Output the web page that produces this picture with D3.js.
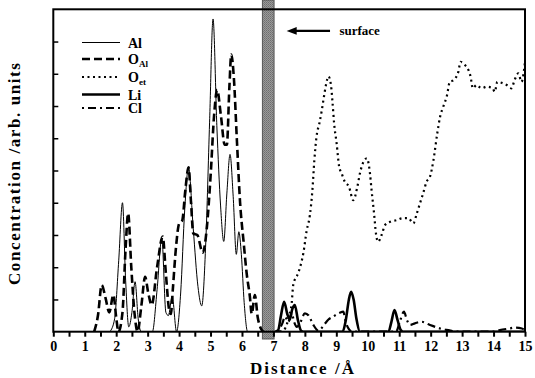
<!DOCTYPE html>
<html>
<head>
<meta charset="utf-8">
<script src="https://cdn.jsdelivr.net/npm/d3@7/dist/d3.min.js"></script>
<style>
  html, body { margin: 0; padding: 0; background: #fff; }
  svg { display: block; }
  text { font-family: "Liberation Serif", "Times New Roman", serif; font-weight: bold; fill: #000; }
</style>
</head>
<body>
<svg id="chart" width="535" height="378"></svg>
<script>
// Concentration profiles versus distance from the interface (points: [distance Å, concentration])
const seriesNames = ["Al", "O_Al", "O_et", "Li", "Cl"];

const alProfile = [
  [1.8, 0], [1.95, 0.4], [2.08, 2.2], [2.2, 4.0], [2.3, 1.6], [2.4, 0.15], [2.5, 0.6], [2.6, 1.55],
  [2.7, 0.4], [2.8, 0], [3.15, 0], [3.3, 1.3], [3.45, 2.9], [3.58, 0.6], [3.66, 0.5], [3.78, 1.1],
  [3.92, 0], [4.05, 1.2], [4.18, 3.8], [4.3, 5.1], [4.45, 3.2], [4.6, 1.4], [4.72, 0.8], [4.85, 2.8],
  [4.97, 6.5], [5.08, 9.7], [5.2, 6.4], [5.32, 3.9], [5.42, 2.8], [5.52, 4.3], [5.62, 5.5], [5.72, 4.2],
  [5.82, 2.4], [5.9, 3.1], [5.98, 2.4], [6.07, 0.9], [6.18, 0], [6.3, 0]
];

const oAlProfile = [
  [1.3, 0], [1.42, 0.5], [1.54, 1.45], [1.66, 1.05], [1.78, 0.6], [1.91, 1.14], [2.0, 0.45], [2.07, 0],
  [2.2, 0.6], [2.3, 2.6], [2.38, 3.67], [2.48, 2.0], [2.58, 0.6], [2.68, 0], [2.8, 0.8], [2.92, 1.7],
  [3.02, 1.2], [3.13, 0.83], [3.3, 2.0], [3.48, 2.95], [3.58, 1.8], [3.68, 0.7], [3.74, 0.55],
  [3.8, 1.3], [3.9, 2.6], [4.0, 3.35], [4.1, 3.45], [4.2, 4.4], [4.3, 5.1], [4.38, 4.0], [4.45, 3.05],
  [4.58, 3.0], [4.75, 2.45], [4.88, 3.2], [5.0, 4.8], [5.12, 6.8], [5.21, 7.5], [5.33, 6.7],
  [5.45, 5.8], [5.52, 5.8], [5.6, 7.6], [5.66, 8.6], [5.74, 7.9], [5.84, 5.9], [5.94, 4.0],
  [6.05, 2.8], [6.15, 1.8], [6.25, 1.1], [6.31, 0.55], [6.41, 1.14], [6.5, 0.45], [6.6, 0.1], [6.68, 0]
];

const oEtProfile = [
  [7.2, 0], [7.37, 0.1], [7.5, 0.5], [7.58, 0.88], [7.63, 1.45], [7.8, 1.85], [7.95, 2.43], [8.06, 3.15],
  [8.16, 3.62], [8.24, 4.4], [8.3, 5.3], [8.37, 6.05], [8.46, 6.46], [8.53, 6.82], [8.59, 7.19],
  [8.67, 7.65], [8.75, 7.92], [8.83, 7.65], [8.88, 7.1], [8.93, 6.46], [9.01, 5.84], [9.09, 5.12],
  [9.17, 4.91], [9.27, 4.65], [9.4, 4.5], [9.54, 4.08], [9.67, 4.5], [9.75, 4.91], [9.9, 5.33],
  [9.97, 5.38], [10.07, 4.91], [10.12, 4.4], [10.2, 3.67], [10.26, 3.05], [10.33, 2.79], [10.44, 3.0],
  [10.55, 3.31], [10.71, 3.41], [10.92, 3.46], [11.1, 3.52], [11.29, 3.52], [11.45, 3.36], [11.56, 3.67],
  [11.66, 3.98], [11.76, 4.29], [11.87, 4.65], [11.98, 4.81], [12.09, 5.33], [12.21, 6.15], [12.3, 6.67],
  [12.4, 6.98], [12.51, 7.29], [12.61, 7.75], [12.72, 7.8], [12.88, 8.06], [12.95, 8.37], [13.09, 8.27],
  [13.2, 8.12], [13.27, 7.91], [13.34, 7.55], [13.46, 7.65], [13.62, 7.55], [13.78, 7.6], [13.97, 7.55],
  [14.04, 7.44], [14.12, 7.75], [14.31, 7.7], [14.42, 7.65], [14.57, 7.55], [14.67, 7.81], [14.79, 8.01],
  [14.89, 7.75], [14.97, 8.12], [15.0, 8.37]
];

const liProfile = [
  [7.05, 0], [7.15, 0.05], [7.24, 0.5], [7.34, 0.93], [7.44, 0.55], [7.52, 0.38], [7.6, 0.7], [7.68, 0.83],
  [7.78, 0.35], [7.88, 0.03], [7.95, 0], [9.2, 0], [9.3, 0.35], [9.4, 1.0], [9.47, 1.24], [9.55, 1.0],
  [9.64, 0.4], [9.75, 0], [10.66, 0], [10.75, 0.3], [10.85, 0.67], [10.95, 0.35], [11.05, 0.05],
  [11.12, 0], [15.0, 0]
];

const clProfile = [
  [7.15, 0], [7.28, 0.25], [7.37, 0.47], [7.47, 0.3], [7.58, 0.57], [7.66, 0.3], [7.74, 0.15],
  [7.86, 0.3], [8.0, 0.57], [8.12, 0.5], [8.27, 0.21], [8.43, 0.03], [8.6, 0.2], [8.75, 0.38],
  [8.9, 0.47], [9.1, 0.58], [9.22, 0.62], [9.3, 0.3], [9.4, 0.08], [9.5, 0], [10.9, 0], [11.02, 0.31],
  [11.15, 0.62], [11.25, 0.35], [11.34, 0.21], [11.5, 0.26], [11.71, 0.31], [11.98, 0.21], [12.3, 0.1],
  [12.6, 0.04], [12.8, 0], [14.0, 0], [14.2, 0.05], [14.5, 0.1], [14.68, 0.13], [14.9, 0.1], [15.0, 0.05]
];

const xTickLabels = d3.range(0, 16);        // labelled integer ticks, Å
const yTickValues = d3.range(1, 10);        // unlabelled inward ticks
const surfaceRange = [6.65, 7.02];          // interface region, Å
const legendLabels = [
  { name: "Al", sub: "" },
  { name: "O", sub: "Al" },
  { name: "O", sub: "et" },
  { name: "Li", sub: "" },
  { name: "Cl", sub: "" }
];

const profiles = { Al: alProfile, O_Al: oAlProfile, O_et: oEtProfile, Li: liProfile, Cl: clProfile };

// line style for each species
const styles = {
  Al:   { width: 1.0, dash: null },
  O_Al: { width: 2.6, dash: "8,4" },
  O_et: { width: 2.2, dash: "2,3.5" },
  Li:   { width: 2.6, dash: null },
  Cl:   { width: 2.2, dash: "2,4,8,4" }
};

const svg = d3.select("#chart");
const plot = { left: 53.3, right: 525, top: 9.3, bottom: 331.7 };

const x = d3.scaleLinear().domain([0, 15]).range([plot.left, plot.right]);
const y = d3.scaleLinear().domain([0, 10]).range([plot.bottom, plot.top]);

const line = d3.line()
  .x(d => x(d[0]))
  .y(d => y(d[1]))
  .curve(d3.curveMonotoneX);

svg.append("clipPath").attr("id", "plotClip")
  .append("rect")
  .attr("x", plot.left).attr("y", plot.top)
  .attr("width", plot.right - plot.left).attr("height", plot.bottom - plot.top);

// stippled fill for the surface band
const pat = svg.append("defs").append("pattern")
  .attr("id", "stipple").attr("patternUnits", "userSpaceOnUse")
  .attr("width", 2).attr("height", 2);
pat.append("rect").attr("width", 2).attr("height", 2).attr("fill", "#9a9a9a");
pat.append("rect").attr("width", 1).attr("height", 1).attr("fill", "#6e6e6e");
pat.append("rect").attr("x", 1).attr("y", 1).attr("width", 1).attr("height", 1).attr("fill", "#7c7c7c");

// surface band (extends past the frame)
svg.append("rect")
  .attr("x", x(surfaceRange[0]))
  .attr("y", 0)
  .attr("width", x(surfaceRange[1]) - x(surfaceRange[0]))
  .attr("height", 339)
  .attr("fill", "url(#stipple)")
  .attr("stroke", "#555")
  .attr("stroke-width", 1);

// profiles
const curves = svg.append("g").attr("clip-path", "url(#plotClip)");
seriesNames.forEach(name => {
  curves.append("path")
    .datum(profiles[name])
    .attr("d", line)
    .attr("fill", "none")
    .attr("stroke", "#000")
    .attr("stroke-width", styles[name].width)
    .attr("stroke-dasharray", styles[name].dash)
    .attr("stroke-linejoin", "round");
});

// frame
svg.append("rect")
  .attr("x", plot.left).attr("y", plot.top)
  .attr("width", plot.right - plot.left).attr("height", plot.bottom - plot.top)
  .attr("fill", "none").attr("stroke", "#000").attr("stroke-width", 2);

// x axis with half-unit minor ticks
const xAxis = d3.axisBottom(x)
  .tickValues(d3.range(0, 15.01, 0.5))
  .tickSize(5)
  .tickFormat(d => Number.isInteger(d) ? String(d) : "");
const gx = svg.append("g")
  .attr("transform", `translate(0,${plot.bottom})`)
  .call(xAxis);
gx.select(".domain").remove();
gx.selectAll(".tick line").attr("stroke", "#000").attr("stroke-width", 2);
gx.selectAll(".tick text")
  .attr("y", 9)
  .attr("dy", "0.71em")
  .style("font-size", "14px")
  .style("font-family", "Liberation Serif")
  .style("font-weight", "bold");

// y axis: inward ticks, no labels
const yAxis = d3.axisRight(y).tickValues(yTickValues).tickSize(5).tickFormat("");
const gy = svg.append("g")
  .attr("transform", `translate(${plot.left},0)`)
  .call(yAxis);
gy.select(".domain").remove();
gy.selectAll(".tick line").attr("stroke", "#000").attr("stroke-width", 1.5);

// axis titles
svg.append("text")
  .attr("x", 302).attr("y", 374)
  .attr("text-anchor", "middle")
  .style("font-size", "17px")
  .attr("textLength", 104)
  .attr("lengthAdjust", "spacing")
  .text("Distance /Å");

svg.append("text")
  .attr("transform", "translate(20,174) rotate(-90)")
  .attr("text-anchor", "middle")
  .style("font-size", "17px")
  .attr("textLength", 222)
  .attr("lengthAdjust", "spacing")
  .text("Concentration /arb. units");

// surface pointer: shaft plus filled head
const arrowY = y(9.33);
svg.append("line")
  .attr("x1", x(8.8)).attr("x2", x(7.7))
  .attr("y1", arrowY).attr("y2", arrowY)
  .attr("stroke", "#000").attr("stroke-width", 2.4);
svg.append("path")
  .attr("d", `M${x(7.42)},${arrowY} L${x(7.74)},${arrowY - 3.8} L${x(7.74)},${arrowY + 3.8} Z`)
  .attr("fill", "#000");

svg.append("text")
  .attr("x", x(9.1)).attr("y", arrowY + 4)
  .style("font-size", "13px")
  .text("surface");

// legend
const legendRows = [42.5, 59, 77, 94.5, 108];
const legend = svg.append("g");
legendLabels.forEach((item, i) => {
  const name = seriesNames[i];
  const ly = legendRows[i];
  legend.append("line")
    .attr("x1", 82).attr("x2", 120)
    .attr("y1", ly).attr("y2", ly)
    .attr("stroke", "#000")
    .attr("stroke-width", styles[name].width)
    .attr("stroke-dasharray", styles[name].dash);
  const t = legend.append("text")
    .attr("x", 128).attr("y", ly + 5)
    .style("font-size", "14px");
  t.append("tspan").text(item.name);
  if (item.sub) {
    t.append("tspan").attr("dy", 3).style("font-size", "9px").text(item.sub);
  }
});
</script>
</body>
</html>
